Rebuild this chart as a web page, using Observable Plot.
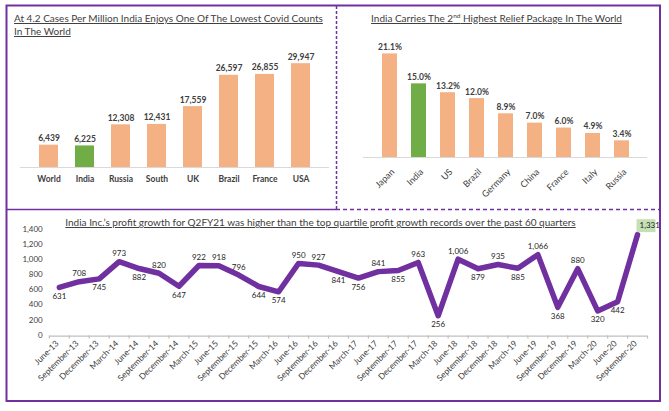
<!DOCTYPE html>
<html><head><meta charset="utf-8">
<script src="https://cdn.jsdelivr.net/npm/d3@7"></script>
<script src="https://cdn.jsdelivr.net/npm/@observablehq/plot@0.6"></script>
<style>
body{margin:0;background:#fff;font-family:Lato, "Open Sans", sans-serif;}
#root{position:relative;width:669px;height:411px;overflow:hidden;background:#fff;}
.panel{position:absolute;overflow:hidden;}
.title{position:absolute;color:#404040;text-decoration:underline;white-space:nowrap;font-size:10px;line-height:13px;}
.title sup{font-size:6.5px;line-height:0;vertical-align:4px;}
</style></head><body><div id="root"></div>
<script>
// ---- Data ----
const covidCountries = ["World","India","Russia","South","UK","Brazil","France","USA"];
const covidCases = [6439,6225,12308,12431,17559,26597,26855,29947];

const reliefCountries = ["Japan","India","US","Brazil","Germany","China","France","Italy","Russia"];
const reliefPct = [21.1,15.0,13.2,12.0,8.9,7.0,6.0,4.9,3.4];

const quarters = ["June-13","September-13","December-13","March-14","June-14","September-14","December-14","March-15","June-15","September-15","December-15","March-16","June-16","September-16","December-16","March-17","June-17","September-17","December-17","March-18","June-18","September-18","December-18","March-19","June-19","September-19","December-19","March-20","June-20","September-20"];
const profitGrowth = [631,708,745,973,882,820,647,922,918,796,644,574,950,927,841,756,841,855,963,256,1006,879,935,885,1066,368,880,320,442,1331];
const yTicks = [0,200,400,600,800,1000,1200,1400];

const highlight = "India";
const BAR = "#F4B183", GREEN = "#70AD47", PURPLE = "#7030A0", TXT = "#404040";
const fmt = d3.format(",");

const root = document.getElementById("root");
function addPanel(el, left, top, w, h) {
  const d = document.createElement("div");
  d.className = "panel";
  Object.assign(d.style, {left: left+"px", top: top+"px", width: w+"px", height: h+"px"});
  d.appendChild(el);
  root.appendChild(d);
}
function addTitle(html, css) {
  const d = document.createElement("div");
  d.className = "title";
  d.innerHTML = html;
  Object.assign(d.style, css);
  root.appendChild(d);
}

// ---- Panel 1 ----
const covid = covidCountries.map((c, i) => ({country: c, cases: covidCases[i]}));
const p1 = Plot.plot({
  width: 336, height: 209,
  marginLeft: 20, marginRight: 7, marginTop: 63, marginBottom: 42,
  style: {fontFamily: "Lato, sans-serif", background: "transparent"},
  x: {domain: covidCountries, padding: 0.48},
  y: {domain: [0, 30000], axis: null},
  marks: [
    Plot.barY(covid.filter(d => d.country !== highlight), {x: "country", y: "cases", fill: BAR}),
    Plot.barY(covid.filter(d => d.country === highlight), {x: "country", y: "cases", fill: GREEN}),
    Plot.ruleY([0], {stroke: "#d9d9d9", strokeWidth: 1.2}),
    Plot.text(covid, {x: "country", y: "cases", text: d => fmt(d.cases), dy: -4, lineAnchor: "bottom",
      fontSize: 8.5, fontWeight: "bold", fill: TXT}),
    Plot.axisX({tickSize: 0, tickPadding: 8, fontSize: 8.5, fontWeight: "bold", color: TXT, label: null})
  ]
});
addPanel(p1, 0, 0, 336, 209);

// ---- Panel 2 ----
const relief = reliefCountries.map((c, i) => ({country: c, pct: reliefPct[i]}));
const p2 = Plot.plot({
  width: 324, height: 209,
  marginLeft: 27, marginRight: 13, marginTop: 49, marginBottom: 52,
  style: {fontFamily: "Lato, sans-serif", background: "transparent"},
  x: {domain: reliefCountries, padding: 0.49},
  y: {domain: [0, 22], axis: null},
  marks: [
    Plot.barY(relief.filter(d => d.country !== highlight), {x: "country", y: "pct", fill: BAR}),
    Plot.barY(relief.filter(d => d.country === highlight), {x: "country", y: "pct", fill: GREEN}),
    Plot.ruleY([0], {stroke: "#d9d9d9", strokeWidth: 1.2}),
    Plot.text(relief, {x: "country", y: "pct", text: d => d.pct.toFixed(1) + "%", dy: -4, lineAnchor: "bottom",
      fontSize: 8.5, fontWeight: "bold", fill: TXT}),
    Plot.axisX({tickRotate: -45, tickSize: 0, tickPadding: 13, fontSize: 9, color: TXT, dx: 3, label: null})
  ]
});
addPanel(p2, 336, 0, 324, 209);

// ---- Panel 3 ----
const profit = quarters.map((q, i) => ({q, v: profitGrowth[i]}));
function above(i) {
  const v = profitGrowth[i];
  const nb = [profitGrowth[i-1], profitGrowth[i+1]].filter(x => x !== undefined);
  return v >= d3.mean(nb);
}
const lastIdx = profit.length - 1;
const boxSymbol = {draw(ctx, size) { ctx.rect(-9, -6.5, 19, 13); }};
const p3 = Plot.plot({
  width: 661, height: 192,
  marginLeft: 49.3, marginRight: 11.7, marginTop: 20, marginBottom: 66,
  style: {fontFamily: "Lato, sans-serif", background: "transparent"},
  x: {domain: quarters, padding: 0},
  y: {domain: [0, 1400]},
  marks: [
    Plot.axisY({ticks: yTicks, tickSize: 0, tickPadding: 7, tickFormat: fmt, fontSize: 8, color: TXT, label: null}),
    Plot.ruleY([0], {stroke: "#bfbfbf", strokeWidth: 1.2, dy: 1}),
    Plot.ruleX(quarters, {x: d => d, dx: -10, insetTop: 103, dy: 4, stroke: "#bfbfbf", strokeWidth: 1.2}),
    Plot.ruleX([quarters[lastIdx]], {x: d => d, dx: 10, insetTop: 103, dy: 4, stroke: "#bfbfbf", strokeWidth: 1.2}),
    Plot.line(profit, {x: "q", y: "v", stroke: PURPLE, strokeWidth: 5.5, strokeLinejoin: "round"}),
    Plot.text(profit.filter((d, i) => i < lastIdx && above(i)), {x: "q", y: "v", text: d => fmt(d.v), dy: -8, fontSize: 8, fill: "#262626"}),
    Plot.text(profit.filter((d, i) => i < lastIdx && !above(i)), {x: "q", y: "v", text: d => fmt(d.v), dy: 9, fontSize: 8, fill: "#262626"}),
    Plot.dot([profit[lastIdx]], {x: "q", y: "v", symbol: boxSymbol, fill: "#C5E0B4", stroke: "none", dx: 8, dy: -9}),
    Plot.text([profit[lastIdx]], {x: "q", y: "v", text: d => fmt(d.v), dx: 2, dy: -9, textAnchor: "start", fontSize: 8, fill: "#262626"}),
    Plot.axisX({tickRotate: -45, tickSize: 0, tickPadding: 7, fontSize: 8.5, color: TXT, dx: -2, label: null})
  ]
});
addPanel(p3, 0, 209, 659, 192);

// ---- Titles ----
addTitle("At 4.2 Cases Per Million India Enjoys One Of The Lowest Covid Counts<br>In The World", {left: "14px", top: "11.5px"});
addTitle("India Carries The 2<sup>nd</sup> Highest Relief Package In The World", {left: "336px", width: "321px", textAlign: "center", top: "11.5px"});
addTitle("India Inc.’s profit growth for Q2FY21 was higher than the top quartile profit growth records over the past 60 quarters", {left: "0px", width: "641px", textAlign: "center", top: "216px"});

// ---- Panel borders ----
const ns = "http://www.w3.org/2000/svg";
const ov = document.createElementNS(ns, "svg");
ov.setAttribute("width", 669); ov.setAttribute("height", 411);
Object.assign(ov.style, {position: "absolute", left: 0, top: 0, pointerEvents: "none"});
ov.innerHTML = `
  <rect x="6.5" y="5.5" width="653.5" height="395.5" fill="none" stroke="${PURPLE}" stroke-width="2"/>
  <line x1="336.5" y1="6" x2="336.5" y2="209" stroke="${PURPLE}" stroke-width="1.5" stroke-dasharray="3,2"/>
  <line x1="6" y1="209.5" x2="336" y2="209.5" stroke="${PURPLE}" stroke-width="1.5"/>
  <line x1="336" y1="209.5" x2="660" y2="209.5" stroke="${PURPLE}" stroke-width="1.5" stroke-dasharray="4,3"/>`;
root.appendChild(ov);
</script></body></html>
